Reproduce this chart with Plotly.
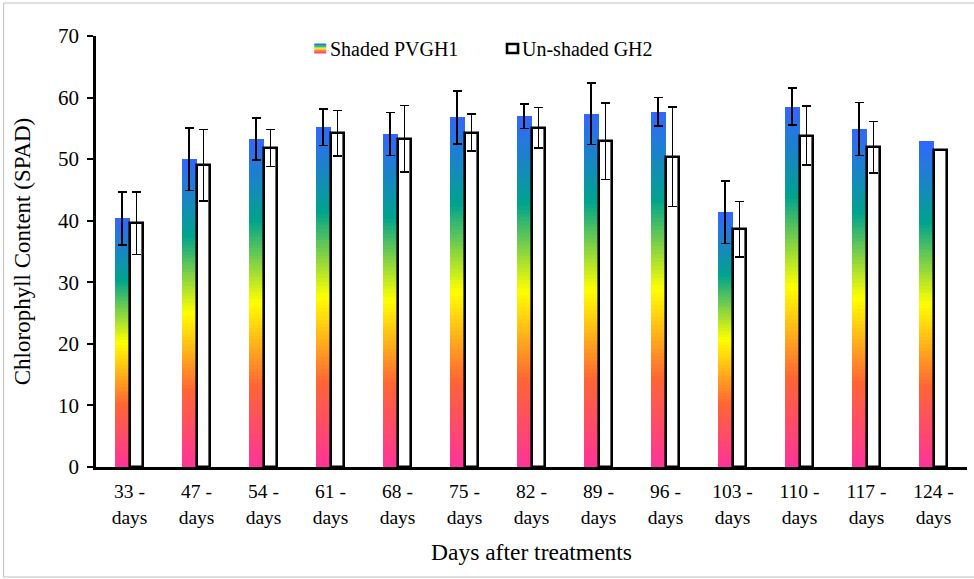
import plotly.graph_objects as go

# ---- data ----
days = ["33", "47", "54", "61", "68", "75", "82", "89", "96", "103", "110", "117", "124"]
tick_labels = [f"{d} -<br>days" for d in days]
shaded = [40.4, 50.0, 53.3, 55.2, 54.1, 56.8, 57.0, 57.4, 57.7, 41.4, 58.5, 54.9, 52.9]
shaded_err = [4.3, 5.1, 3.4, 3.0, 3.5, 4.3, 2.0, 5.0, 2.3, 5.1, 3.0, 4.3, None]
unshaded = [39.6, 49.0, 51.8, 54.2, 53.3, 54.3, 55.1, 52.9, 50.4, 38.6, 53.8, 51.9, 51.5]
unshaded_err = [5.1, 5.8, 3.0, 3.7, 5.4, 3.0, 3.3, 6.2, 8.1, 4.5, 4.8, 4.2, None]
series_names = ["Shaded PVGH1", "Un-shaded GH2"]

# gradient stops (fraction of bar height -> colour)
grad_stops = [(0.0, (255, 51, 153)), (0.25, (255, 102, 51)), (0.5, (255, 255, 0)),
              (0.75, (0, 163, 140)), (1.0, (51, 102, 255))]


def grad_color(f):
    for (f0, c0), (f1, c1) in zip(grad_stops[:-1], grad_stops[1:]):
        if f <= f1:
            t = (f - f0) / (f1 - f0)
            c = [round(a + (b - a) * t) for a, b in zip(c0, c1)]
            return f"rgb({c[0]},{c[1]},{c[2]})"
    c = grad_stops[-1][1]
    return f"rgb({c[0]},{c[1]},{c[2]})"


FONT = "Liberation Serif, Times New Roman, serif"
xs = list(range(len(days)))
W_SH, OFF_SH = 0.215, -0.215
W_UN, OFF_UN = 0.2, 0.005

fig = go.Figure()

# gradient-filled shaded bars built from stacked segments
N = 90
for i in range(N):
    base = [v * i / N for v in shaded]
    top = [v * min(i + 1.6, N) / N for v in shaded]
    fig.add_trace(go.Bar(
        x=xs, y=[t - b for t, b in zip(top, base)], base=base,
        width=W_SH, offset=OFF_SH,
        marker=dict(color=grad_color((i + 0.5) / N), line=dict(width=0)),
        showlegend=False, hoverinfo="skip"))

# transparent shaded bars carrying the error bars (only where an error exists)
idx_sh = [k for k, e in enumerate(shaded_err) if e is not None]
fig.add_trace(go.Bar(
    x=[xs[k] for k in idx_sh], y=[shaded[k] for k in idx_sh],
    width=W_SH, offset=OFF_SH, name=series_names[0],
    marker=dict(color="rgba(0,0,0,0)", line=dict(width=0)),
    error_y=dict(type="data", array=[shaded_err[k] for k in idx_sh],
                 color="black", thickness=1.7, width=4.5),
    showlegend=False, hoverinfo="skip"))

# un-shaded bars
fig.add_trace(go.Bar(
    x=xs, y=unshaded, width=W_UN, offset=OFF_UN, name=series_names[1],
    marker=dict(color="white", line=dict(color="black", width=2.6)),
    showlegend=False))
idx_un = [k for k, e in enumerate(unshaded_err) if e is not None]
fig.add_trace(go.Bar(
    x=[xs[k] for k in idx_un], y=[unshaded[k] for k in idx_un],
    width=W_UN, offset=OFF_UN,
    marker=dict(color="rgba(0,0,0,0)", line=dict(width=0)),
    error_y=dict(type="data", array=[unshaded_err[k] for k in idx_un],
                 color="black", thickness=1.7, width=4.5),
    showlegend=False, hoverinfo="skip"))

# ---- layout helpers (pixel -> paper) ----
L, R, T, B = 95.5, 967.5, 36, 467
PW, PH = R - L, B - T


def px(x):
    return (x - L) / PW


def py(y):
    return (B - y) / PH


shapes = []
# legend icon 1 : gradient square
n_ic = 6
for k in range(n_ic):
    y0 = 43.5 + (53.5 - 43.5) * k / n_ic
    y1 = 43.5 + (53.5 - 43.5) * (k + 1) / n_ic
    shapes.append(dict(type="rect", xref="paper", yref="paper",
                       x0=px(314), x1=px(326), y0=py(y1), y1=py(y0),
                       fillcolor=grad_color(1 - (k + 0.5) / n_ic), line=dict(width=0)))
# legend icon 2 : white square with black border
shapes.append(dict(type="rect", xref="paper", yref="paper",
                   x0=px(507), x1=px(518), y0=py(53), y1=py(44),
                   fillcolor="white", line=dict(color="black", width=2.6)))
# outer frame
shapes.append(dict(type="rect", xref="paper", yref="paper",
                   x0=px(3), x1=px(976), y0=py(577), y1=py(3),
                   fillcolor="rgba(0,0,0,0)", line=dict(color="#c0c0c0", width=1), layer="below"))

annotations = [
    dict(text=series_names[0], xref="paper", yref="paper", x=px(328), y=py(48.5),
         xanchor="left", yanchor="middle", showarrow=False,
         font=dict(family=FONT, size=20, color="black")),
    dict(text=series_names[1], xref="paper", yref="paper", x=px(520), y=py(48.5),
         xanchor="left", yanchor="middle", showarrow=False,
         font=dict(family=FONT, size=20, color="black")),
]

fig.update_layout(
    width=974, height=579,
    margin=dict(l=L, r=974 - R, t=T, b=579 - B, pad=0, autoexpand=False),
    paper_bgcolor="white", plot_bgcolor="white",
    barmode="overlay", bargap=0,
    showlegend=False,
    font=dict(family=FONT, size=19, color="black"),
    shapes=shapes, annotations=annotations,
    xaxis=dict(
        tickmode="array", tickvals=xs, ticktext=tick_labels,
        range=[-0.5, len(days) - 0.5], automargin=False,
        showline=True, linecolor="black", linewidth=2.6,
        ticks="", showgrid=False, zeroline=False, ticklabelstandoff=5,
        tickfont=dict(family=FONT, size=19.5, color="black"),
        title=dict(text="Days after treatments", font=dict(family=FONT, size=23.5, color="black"),
                   standoff=18),
    ),
    yaxis=dict(
        range=[0, 70], tickmode="linear", tick0=0, dtick=10, automargin=False,
        showline=True, linecolor="black", linewidth=2.6,
        ticks="outside", ticklen=6, tickwidth=2, tickcolor="black",
        showgrid=False, zeroline=False, ticklabelstandoff=4,
        tickfont=dict(family=FONT, size=21, color="black"),
        title=dict(text="Chlorophyll Content (SPAD)", font=dict(family=FONT, size=23, color="black"),
                   standoff=21),
    ),
)

fig.write_html("out.html", config={"displayModeBar": False},
               post_script="document.body.style.margin='0';")
